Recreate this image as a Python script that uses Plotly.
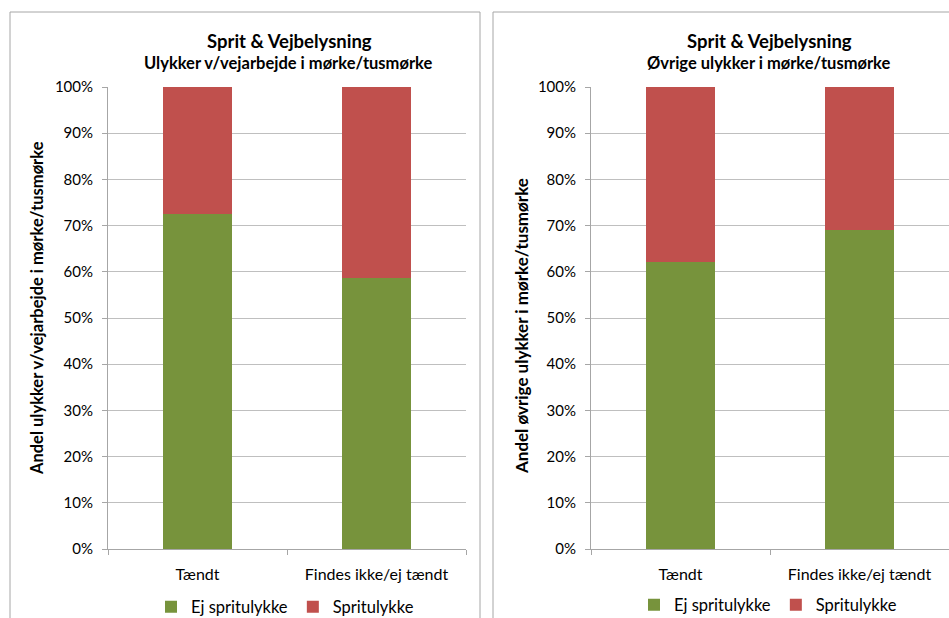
import plotly.graph_objects as go

categories = ["Tændt", "Findes ikke/ej tændt"]
left_ej = [0.725, 0.587]
left_sprit = [0.275, 0.413]
right_ej = [0.621, 0.690]
right_sprit = [0.379, 0.310]
series_names = ["Ej spritulykke", "Spritulykke"]
colors = ["#77933C", "#C0504D"]

W, H = 949, 618
FONT = "Lato"

fig = go.Figure()

def px_x(x):
    return x / W

def px_y(y):
    return (H - y) / H

for vals, name, col in zip([left_ej, left_sprit], series_names, colors):
    fig.add_trace(go.Bar(x=categories, y=vals, name=name, marker_color=col,
                         marker_line_width=0, width=0.39, xaxis="x", yaxis="y",
                         legend="legend"))
for vals, name, col in zip([right_ej, right_sprit], series_names, colors):
    fig.add_trace(go.Bar(x=categories, y=vals, name=name, marker_color=col,
                         marker_line_width=0, width=0.39, xaxis="x2", yaxis="y2",
                         legend="legend2"))

yd = [px_y(549), px_y(87)]
common_y = dict(range=[0, 1], dtick=0.1, tickformat=".0%", showgrid=True,
                gridcolor="#BFBFBF", gridwidth=1, showline=True, linecolor="#A6A6A6",
                ticks="outside", ticklen=5, tickcolor="#A6A6A6",
                tickfont=dict(family=FONT, size=15, color="#000"), zeroline=False,
                domain=yd, fixedrange=True, automargin=False, ticklabelstandoff=6)
common_x = dict(type="category", showline=True, linecolor="#A6A6A6", ticks="outside",
                tickson="boundaries", ticklen=5, tickcolor="#A6A6A6",
                tickfont=dict(family=FONT, size=16, color="#000"), showgrid=False,
                fixedrange=True, automargin=False, ticklabelstandoff=11)

fig.update_layout(
    width=W, height=H, margin=dict(l=0, r=0, t=0, b=0, autoexpand=False),
    paper_bgcolor="white", plot_bgcolor="white", barmode="stack", bargap=0.61,
    xaxis=dict(domain=[px_x(108), px_x(466)], anchor="y", **common_x),
    yaxis=dict(anchor="x", **common_y),
    xaxis2=dict(domain=[px_x(591), px_x(949)], anchor="y2", **common_x),
    yaxis2=dict(anchor="x2", **common_y),
    legend=dict(orientation="h", x=px_x(285), xanchor="center", y=px_y(607), yanchor="middle",
                font=dict(family=FONT, size=16.5, color="#000"), traceorder="normal",
                itemwidth=30, bgcolor="rgba(0,0,0,0)"),
    legend2=dict(orientation="h", x=px_x(768), xanchor="center", y=px_y(605), yanchor="middle",
                 font=dict(family=FONT, size=16.5, color="#000"), traceorder="normal",
                 itemwidth=30, bgcolor="rgba(0,0,0,0)"),
    showlegend=True,
)

# Chart frames
fig.add_shape(type="rect", xref="paper", yref="paper", x0=px_x(10), x1=px_x(480),
              y0=px_y(640), y1=px_y(12), line=dict(color="#A6A6A6", width=1))
fig.add_shape(type="rect", xref="paper", yref="paper", x0=px_x(493), x1=px_x(980),
              y0=px_y(640), y1=px_y(12), line=dict(color="#A6A6A6", width=1))

annots = [
    (289, 41, "<b>Sprit & Vejbelysning</b>", 18.5),
    (288, 63, "<b>Ulykker v/vejarbejde i mørke/tusmørke</b>", 16.5),
    (769, 41, "<b>Sprit & Vejbelysning</b>", 18.5),
    (769, 63, "<b>Øvrige ulykker i mørke/tusmørke</b>", 16.5),
]
for x, y, t, s in annots:
    fig.add_annotation(x=px_x(x), y=px_y(y), xref="paper", yref="paper", text=t,
                       showarrow=False, font=dict(family=FONT, size=s, color="#000"),
                       xanchor="center", yanchor="middle")

fig.add_annotation(x=px_x(37), y=px_y(308), xref="paper", yref="paper",
                   text="<b>Andel ulykker v/vejarbejde i mørke/tusmørke</b>", textangle=-90,
                   showarrow=False, font=dict(family=FONT, size=16.5, color="#000"),
                   xanchor="center", yanchor="middle")
fig.add_annotation(x=px_x(521), y=px_y(326), xref="paper", yref="paper",
                   text="<b>Andel øvrige ulykker i mørke/tusmørke</b>", textangle=-90,
                   showarrow=False, font=dict(family=FONT, size=17, color="#000"),
                   xanchor="center", yanchor="middle")

fig.write_html("out.html", config={"displayModeBar": False},
               post_script="document.body.style.margin='0';document.body.style.overflow='hidden';")
